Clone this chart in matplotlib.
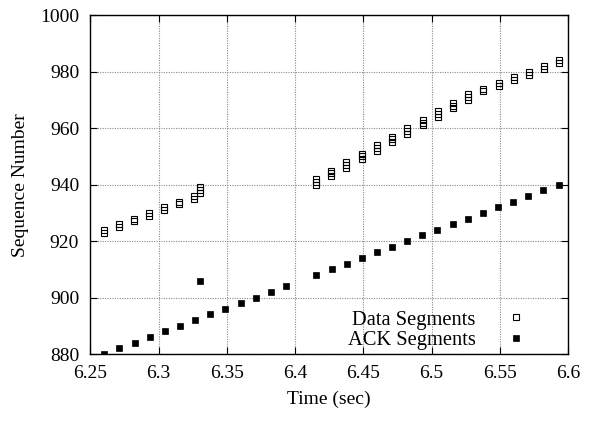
import matplotlib
matplotlib.use("Agg")
import matplotlib.pyplot as plt

plt.rcParams['font.family'] = ['Liberation Serif', 'DejaVu Serif']

# Data segments: one entry per plotted point (time, sequence number)
data_time = [
    6.2600, 6.2600,
    6.2710, 6.2710,
    6.2820, 6.2820,
    6.2930, 6.2930,
    6.3040, 6.3040,
    6.3153, 6.3153,
    6.3263, 6.3263,
    6.3302, 6.3302, 6.3302,
    6.4154, 6.4154, 6.4154,
    6.4266, 6.4266, 6.4266,
    6.4376, 6.4376, 6.4376,
    6.4489, 6.4489, 6.4489,
    6.4601, 6.4601, 6.4601,
    6.4711, 6.4711, 6.4711,
    6.4823, 6.4823, 6.4823,
    6.4934, 6.4934, 6.4934,
    6.5044, 6.5044, 6.5044,
    6.5155, 6.5155, 6.5155,
    6.5265, 6.5265, 6.5265,
    6.5377, 6.5377,
    6.5491, 6.5491,
    6.5601, 6.5601,
    6.5711, 6.5711,
    6.5822, 6.5822,
    6.5935, 6.5935,
]
data_seq = [
    923, 924,
    925, 926,
    927, 928,
    929, 930,
    931, 932,
    933, 934,
    935, 936,
    937, 938, 939,
    940, 941, 942,
    943, 944, 945,
    946, 947, 948,
    949, 950, 951,
    952, 953, 954,
    955, 956, 957,
    958, 959, 960,
    961, 962, 963,
    964, 965, 966,
    967, 968, 969,
    970, 971, 972,
    973, 974,
    975, 976,
    977, 978,
    979, 980,
    981, 982,
    983, 984,
]

# ACK segments
ack_time = [6.2600, 6.2710, 6.2825, 6.2938, 6.3048, 6.3158, 6.3268, 6.3304,
            6.3378, 6.3488, 6.3603, 6.3713, 6.3825, 6.3935,
            6.4152, 6.4270, 6.4380, 6.4492, 6.4602, 6.4712, 6.4822, 6.4932,
            6.5042, 6.5159, 6.5269, 6.5379, 6.5489, 6.5599, 6.5709, 6.5819, 6.5934]
ack_seq = [880, 882, 884, 886, 888, 890, 892, 906,
           894, 896, 898, 900, 902, 904,
           908, 910, 912, 914, 916, 918, 920, 922,
           924, 926, 928, 930, 932, 934, 936, 938, 940]

x_ticks = [6.25, 6.3, 6.35, 6.4, 6.45, 6.5, 6.55, 6.6]
x_tick_labels = ["6.25", "6.3", "6.35", "6.4", "6.45", "6.5", "6.55", "6.6"]
y_ticks = [880, 900, 920, 940, 960, 980, 1000]

fig = plt.figure(figsize=(5.91, 4.21), dpi=100)
ax = fig.add_axes([0.1528, 0.1591, 0.8083, 0.8046])

ax.plot(data_time, data_seq, linestyle='none', marker='s', markersize=3.9,
        markerfacecolor='none', markeredgecolor='black', markeredgewidth=0.8,
        label='Data Segments')
ax.plot(ack_time, ack_seq, linestyle='none', marker='s', markersize=4.5,
        markerfacecolor='black', markeredgecolor='black', markeredgewidth=0.5,
        label='ACK Segments')

ax.set_xlim(6.25, 6.6)
ax.set_ylim(880, 1000)
ax.set_xticks(x_ticks)
ax.set_xticklabels(x_tick_labels)
ax.set_yticks(y_ticks)

ax.grid(True, linestyle=(0, (1, 1.2)), color='#8a8a8a', linewidth=0.8)
ax.tick_params(direction='in', top=True, right=True, length=5, width=0.8,
               labelsize=14, pad=8, colors='black')
for s in ax.spines.values():
    s.set_linewidth(1.0)
    s.set_color('black')

ax.set_xlabel('Time (sec)', fontsize=14, labelpad=6)
ax.set_ylabel('Sequence Number', fontsize=14, labelpad=8)

leg = ax.legend(loc='lower right', bbox_to_anchor=(0.934, 0.012), markerfirst=False,
                frameon=False, fontsize=14.8, borderpad=0, borderaxespad=0,
                handletextpad=0.95, labelspacing=0.05, handlelength=2.0)

fig.savefig('out.png', dpi=100)
